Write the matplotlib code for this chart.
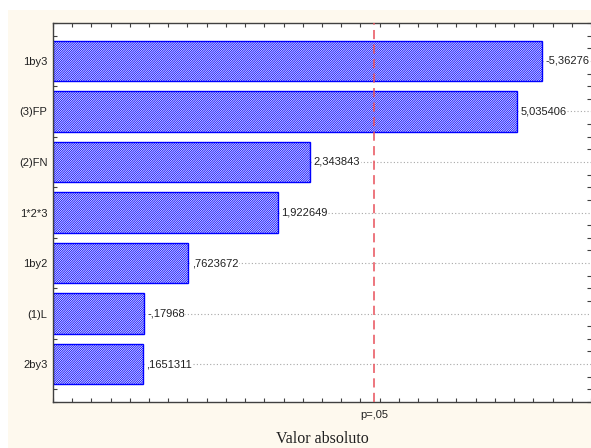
import numpy as np
import matplotlib.pyplot as plt
from matplotlib.patches import Rectangle
from matplotlib.ticker import MultipleLocator, NullFormatter

plt.rcParams['font.family'] = ['Liberation Sans', 'DejaVu Sans']
plt.rcParams['hatch.linewidth'] = 0.6
plt.rcParams['hatch.color'] = '#0000ff'

# standardized effect estimates (Pareto order, largest first)
names = ['1by3', '(3)FP', '(2)FN', '1*2*3', '1by2', '(1)L', '2by3']
effects = [-5.36276, 5.035406, 2.343843, 1.922649, 0.7623672, -0.17968, 0.1651311]
t_crit = 3.182  # p = .05
x0, x1 = -1.0, 6.0


def stat_fmt(v):
    s = f"{v:.7g}".replace('0.', '.', 1) if abs(v) < 1 else f"{v:.7g}"
    return s.replace('.', ',')


fig = plt.figure(figsize=(5.91, 4.48), dpi=100)
fig.patches.append(Rectangle((8 / 591, 0), 1, 1 - 10 / 448, transform=fig.transFigure,
                             facecolor='#fef9ee', edgecolor='none', zorder=-10))
ax = fig.add_axes([53 / 591, 46 / 448, 538 / 591, 379 / 448])
ax.set_facecolor('white')

ypos = np.arange(len(names))[::-1]
mags = np.abs(effects)

for y, m, v in zip(ypos, mags, effects):
    ax.plot([m, x1], [y, y], color='#a8a8a8', lw=0.8, ls=(0, (1, 2)), zorder=1)
    ax.annotate(stat_fmt(v), (m, y), xytext=(2.5, 0), textcoords='offset points',
                ha='left', va='center', fontsize=8, color='#202020', zorder=3,
                annotation_clip=False,
                bbox=dict(boxstyle='square,pad=0.05', facecolor='white', edgecolor='none'))

ax.barh(ypos, mags - x0, left=x0, height=0.8, color='white', edgecolor='#0000ff',
        linewidth=1.0, hatch='/' * 15, zorder=2)

ax.axvline(t_crit, color='#e8505a', lw=1.1, ls=(0, (6, 3.5)), zorder=4)

ax.set_xlim(x0, x1)
ax.set_ylim(-0.75, len(names) - 0.25)

ax.set_yticks(ypos)
ax.set_yticklabels(names, fontsize=8, color='#202020')
ax.yaxis.set_minor_locator(MultipleLocator(0.25))
ax.set_xticks([t_crit])
ax.set_xticklabels(['p=,05'], fontsize=8, color='#202020')
ax.xaxis.set_minor_locator(MultipleLocator(0.25))
ax.tick_params(axis='x', which='major', length=0, pad=6)
ax.tick_params(axis='y', which='major', length=0, pad=4)
ax.tick_params(which='minor', direction='in', length=3, width=0.8, color='#404040',
               top=True, bottom=True, left=True, right=True)
ax.xaxis.set_minor_formatter(NullFormatter())
ax.yaxis.set_minor_formatter(NullFormatter())

for side in ['left', 'top', 'bottom']:
    ax.spines[side].set_color('#404040')
    ax.spines[side].set_linewidth(1.0)
ax.spines['right'].set_visible(False)

ax.set_xlabel('Valor absoluto', family=['Liberation Serif', 'DejaVu Serif'],
              fontsize=11.5, labelpad=8, color='#202020')

fig.savefig('out.png', dpi=100)
